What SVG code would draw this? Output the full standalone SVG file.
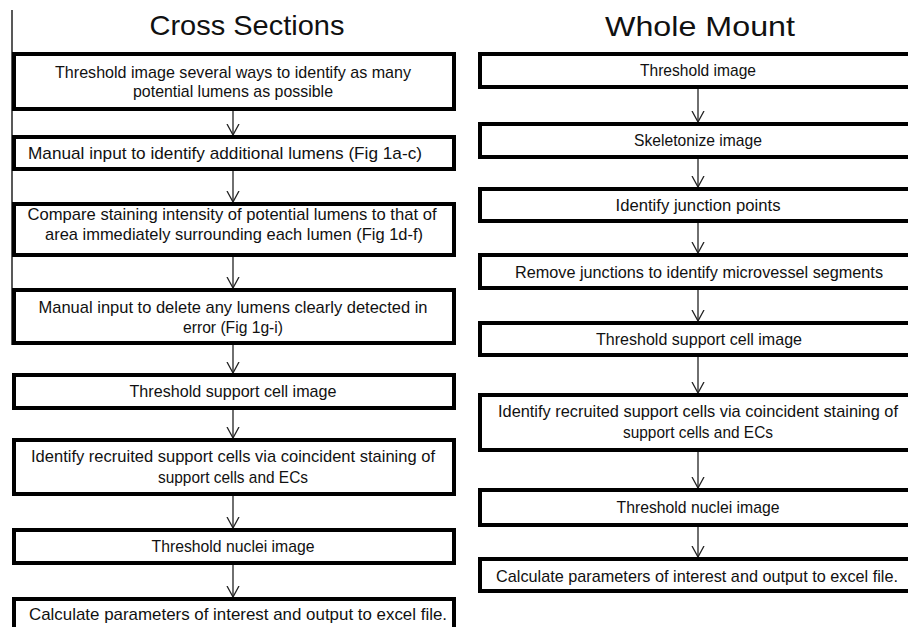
<svg xmlns="http://www.w3.org/2000/svg" width="908" height="627" viewBox="0 0 908 627">
<defs>
<style>
.box{fill:#fff;stroke:#000;stroke-width:4}
.t{font-family:"Liberation Sans",Arial,sans-serif;font-size:17px;fill:#111;text-anchor:middle}
.h{font-family:"Liberation Sans",Arial,sans-serif;font-size:28px;fill:#111;text-anchor:middle}
.c{stroke:#222;stroke-width:1.3;fill:none}
</style>
<marker id="ah" viewBox="0 0 12 14" refX="11" refY="7" markerWidth="12" markerHeight="14" markerUnits="userSpaceOnUse" orient="auto">
<path d="M0,1 L11,7 L0,13" fill="none" stroke="#222" stroke-width="1.3"/>
</marker>
</defs>
<rect width="908" height="627" fill="#fff"/>
<line x1="12" y1="10" x2="12" y2="345" stroke="#222" stroke-width="1.5"/>
<text class="h" x="247" y="35" textLength="195" lengthAdjust="spacingAndGlyphs">Cross Sections</text>
<text class="h" x="700" y="36" textLength="190" lengthAdjust="spacingAndGlyphs">Whole Mount</text>
<g id="connectors">
<line class="c" x1="233" y1="111" x2="233" y2="135" marker-end="url(#ah)"/>
<line class="c" x1="233" y1="171" x2="233" y2="202" marker-end="url(#ah)"/>
<line class="c" x1="233" y1="257" x2="233" y2="288" marker-end="url(#ah)"/>
<line class="c" x1="233" y1="345" x2="233" y2="373" marker-end="url(#ah)"/>
<line class="c" x1="233" y1="410" x2="233" y2="438" marker-end="url(#ah)"/>
<line class="c" x1="233" y1="496" x2="233" y2="528" marker-end="url(#ah)"/>
<line class="c" x1="233" y1="565" x2="233" y2="597" marker-end="url(#ah)"/>
<line class="c" x1="698" y1="89" x2="698" y2="122" marker-end="url(#ah)"/>
<line class="c" x1="698" y1="159" x2="698" y2="187" marker-end="url(#ah)"/>
<line class="c" x1="698" y1="223" x2="698" y2="253" marker-end="url(#ah)"/>
<line class="c" x1="698" y1="290" x2="698" y2="321" marker-end="url(#ah)"/>
<line class="c" x1="698" y1="357" x2="698" y2="393" marker-end="url(#ah)"/>
<line class="c" x1="698" y1="452" x2="698" y2="488" marker-end="url(#ah)"/>
<line class="c" x1="698" y1="527" x2="698" y2="557" marker-end="url(#ah)"/>
</g>
<g id="L1"><rect class="box" x="14" y="54" width="440" height="55"/>
<text class="t" x="233" y="78" textLength="356" lengthAdjust="spacingAndGlyphs">Threshold image several ways to identify as many</text>
<text class="t" x="233" y="97" textLength="200" lengthAdjust="spacingAndGlyphs">potential lumens as possible</text></g>
<g id="L2"><rect class="box" x="14" y="137" width="440" height="32"/>
<text class="t" x="225" y="159" textLength="394" lengthAdjust="spacingAndGlyphs">Manual input to identify additional lumens (Fig 1a-c)</text></g>
<g id="L3"><rect class="box" x="14" y="204" width="440" height="51"/>
<text class="t" x="232" y="220" textLength="409" lengthAdjust="spacingAndGlyphs">Compare staining intensity of potential lumens to that of</text>
<text class="t" x="234" y="240" textLength="378" lengthAdjust="spacingAndGlyphs">area immediately surrounding each lumen (Fig 1d-f)</text></g>
<g id="L4"><rect class="box" x="14" y="290" width="440" height="53"/>
<text class="t" x="233" y="313" textLength="389" lengthAdjust="spacingAndGlyphs">Manual input to delete any lumens clearly detected in</text>
<text class="t" x="233" y="333" textLength="100" lengthAdjust="spacingAndGlyphs">error (Fig 1g-i)</text></g>
<g id="L5"><rect class="box" x="14" y="375" width="440" height="33"/>
<text class="t" x="233" y="397" textLength="207" lengthAdjust="spacingAndGlyphs">Threshold support cell image</text></g>
<g id="L6"><rect class="box" x="14" y="440" width="440" height="54"/>
<text class="t" x="233" y="462" textLength="404" lengthAdjust="spacingAndGlyphs">Identify recruited support cells via coincident staining of</text>
<text class="t" x="233" y="483" textLength="150" lengthAdjust="spacingAndGlyphs">support cells and ECs</text></g>
<g id="L7"><rect class="box" x="14" y="530" width="440" height="33"/>
<text class="t" x="233" y="552" textLength="163" lengthAdjust="spacingAndGlyphs">Threshold nuclei image</text></g>
<g id="L8"><rect class="box" x="14" y="599" width="440" height="40"/>
<text class="t" x="238" y="620" textLength="418" lengthAdjust="spacingAndGlyphs">Calculate parameters of interest and output to excel file.</text></g>
<g id="R1"><rect class="box" x="480" y="54" width="440" height="33"/>
<text class="t" x="698" y="76" textLength="116" lengthAdjust="spacingAndGlyphs">Threshold image</text></g>
<g id="R2"><rect class="box" x="480" y="124" width="440" height="33"/>
<text class="t" x="698" y="146" textLength="128" lengthAdjust="spacingAndGlyphs">Skeletonize image</text></g>
<g id="R3"><rect class="box" x="480" y="189" width="440" height="32"/>
<text class="t" x="698" y="211" textLength="165" lengthAdjust="spacingAndGlyphs">Identify junction points</text></g>
<g id="R4"><rect class="box" x="480" y="255" width="440" height="33"/>
<text class="t" x="699" y="278" textLength="368" lengthAdjust="spacingAndGlyphs">Remove junctions to identify microvessel segments</text></g>
<g id="R5"><rect class="box" x="480" y="323" width="440" height="32"/>
<text class="t" x="699" y="345" textLength="206" lengthAdjust="spacingAndGlyphs">Threshold support cell image</text></g>
<g id="R6"><rect class="box" x="480" y="395" width="440" height="55"/>
<text class="t" x="698" y="417" textLength="400" lengthAdjust="spacingAndGlyphs">Identify recruited support cells via coincident staining of</text>
<text class="t" x="698" y="438" textLength="150" lengthAdjust="spacingAndGlyphs">support cells and ECs</text></g>
<g id="R7"><rect class="box" x="480" y="490" width="440" height="35"/>
<text class="t" x="698" y="513" textLength="163" lengthAdjust="spacingAndGlyphs">Threshold nuclei image</text></g>
<g id="R8"><rect class="box" x="480" y="559" width="440" height="32"/>
<text class="t" x="697" y="582" textLength="402" lengthAdjust="spacingAndGlyphs">Calculate parameters of interest and output to excel file.</text></g>
</svg>
